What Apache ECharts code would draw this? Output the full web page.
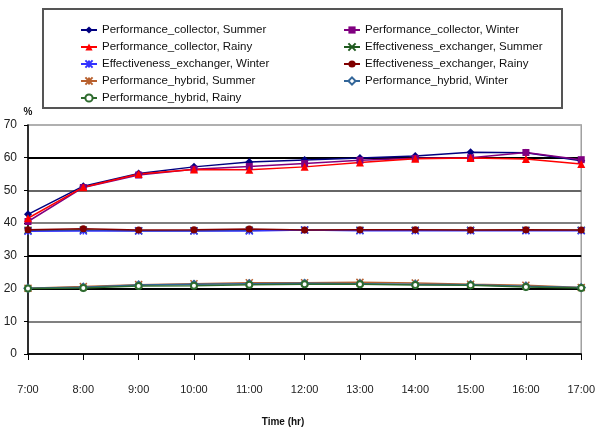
<!DOCTYPE html>
<html><head><meta charset="utf-8">
<script src="https://cdn.jsdelivr.net/npm/echarts@6/dist/echarts.min.js"></script>
<style>html,body{margin:0;padding:0;background:#fff}#c{width:598px;height:428px}</style>
</head><body><div id="c"></div>
<script>
var hours = ['7:00','8:00','9:00','10:00','11:00','12:00','13:00','14:00','15:00','16:00','17:00'];
var yTicks = [0,10,20,30,40,50,60,70];
var pcSummer = [42.7, 51.3, 55.2, 57.2, 58.7, 59.3, 59.9, 60.5, 61.7, 61.5, 59.1];
var pcWinter = [40.5, 50.9, 54.7, 56.5, 57.3, 58.2, 59.2, 59.8, 60.0, 61.6, 59.4];
var pcRainy  = [41.5, 51.0, 55.0, 56.4, 56.3, 57.2, 58.5, 59.7, 59.9, 59.6, 58.1];
var eeSummer = [37.8, 37.9, 37.7, 37.7, 37.8, 37.9, 37.8, 37.8, 37.8, 37.8, 37.8];
var eeWinter = [37.5, 37.6, 37.6, 37.6, 37.6, 37.9, 37.7, 37.7, 37.7, 37.7, 37.7];
var eeRainy  = [38.0, 38.3, 37.9, 38.0, 38.2, 37.9, 38.0, 38.0, 37.9, 38.0, 37.9];
var phSummer = [20.1, 20.6, 21.2, 21.5, 21.8, 21.8, 21.9, 21.7, 21.3, 21.0, 20.3];
var phWinter = [20.1, 20.4, 21.1, 21.3, 21.5, 21.6, 21.5, 21.3, 21.2, 20.7, 20.3];
var phRainy  = [20.0, 20.2, 20.8, 20.9, 21.2, 21.3, 21.3, 21.1, 21.0, 20.5, 20.2];

var X = 'path://M0,0L10,10M10,0L0,10';
var AST = 'path://M0,0L10,10M10,0L0,10M5,0L5,10';
var FONT = '"Liberation Sans", Arial, sans-serif';

function mk(name, data, color, symbol, size, stroke){
  var s = {
    name: name, type: 'line', data: data, symbol: symbol, symbolSize: size,
    lineStyle: {color: color, width: 1.5},
    itemStyle: {color: color},
    animation: false
  };
  if (stroke) s.itemStyle = {color: 'none', borderColor: color, borderWidth: 1.5};
  return s;
}
var series = [
  mk('Performance_collector, Summer', pcSummer, '#000080', 'diamond', 8),
  mk('Performance_collector, Winter', pcWinter, '#800080', 'rect', 7),
  mk('Performance_collector, Rainy', pcRainy, '#ff0000', 'triangle', 8),
  mk('Effectiveness_exchanger, Summer', eeSummer, '#1f5a1f', X, 7, true),
  mk('Effectiveness_exchanger, Winter', eeWinter, '#3333ff', AST, 7, true),
  mk('Effectiveness_exchanger, Rainy', eeRainy, '#800000', 'circle', 7),
  mk('Performance_hybrid, Summer', phSummer, '#b8602e', AST, 7, true),
  mk('Performance_hybrid, Winter', phWinter, '#336699', 'emptyDiamond', 7),
  mk('Performance_hybrid, Rainy', phRainy, '#2e6b2e', 'emptyCircle', 6)
];
series[7].itemStyle = {color: '#336699', borderWidth: 1.2};
series[8].itemStyle = {color: '#2e6b2e', borderWidth: 1.2};

var legendCommon = {
  orient: 'vertical', itemWidth: 16, itemHeight: 9, itemGap: 3,
  textStyle: {fontFamily: FONT, fontSize: 11.5, lineHeight: 14, color: '#111'},
  selectedMode: false, padding: 0
};
var chart = echarts.init(document.getElementById('c'), null, {renderer: 'canvas'});
chart.setOption({
  backgroundColor: '#fff',
  animation: false,
  grid: {left: 28, right: 12, top: 125, bottom: 74, show: true, borderColor: '#a0a0a0', borderWidth: 1.5},
  legend: [
    Object.assign({left: 80, top: 23, data: [series[0].name, series[2].name, series[4].name, series[6].name, series[8].name]}, legendCommon),
    Object.assign({left: 343, top: 23, data: [series[1].name, series[3].name, series[5].name, series[7].name]}, legendCommon)
  ],
  xAxis: {
    type: 'category', data: hours, boundaryGap: false,
    axisLine: {lineStyle: {color: '#000', width: 1.5}},
    axisTick: {show: true, length: 6, lineStyle: {color: '#000'}},
    axisLabel: {margin: 30, fontFamily: FONT, fontSize: 11, color: '#222'},
    splitLine: {show: false}
  },
  yAxis: {
    type: 'value', min: yTicks[0], max: yTicks[yTicks.length-1], interval: 10,
    name: '%', nameLocation: 'end', nameGap: 8,
    nameTextStyle: {fontFamily: FONT, fontSize: 10, fontWeight: 'bold', color: '#111', align: 'center'},
    axisLine: {show: true, lineStyle: {color: '#000', width: 1.5}},
    axisTick: {show: true, length: 4, lineStyle: {color: '#000'}},
    axisLabel: {margin: 11, fontFamily: FONT, fontSize: 12, color: '#222'},
    splitLine: {show: true, lineStyle: {width: 1.8, color: ['#555','#808080','#000','#000','#808080','#666','#000','#b0b0b0']}}
  },
  graphic: [
    {type: 'rect', shape: {x: 43, y: 9, width: 519, height: 99}, style: {fill: 'none', stroke: '#555', lineWidth: 2}, z: 100},
    {type: 'text', x: 283, y: 422, style: {text: 'Time (hr)', font: 'bold 10px ' + FONT, fill: '#111', textAlign: 'center', textVerticalAlign: 'middle'}}
  ],
  series: series
});
</script></body></html>
